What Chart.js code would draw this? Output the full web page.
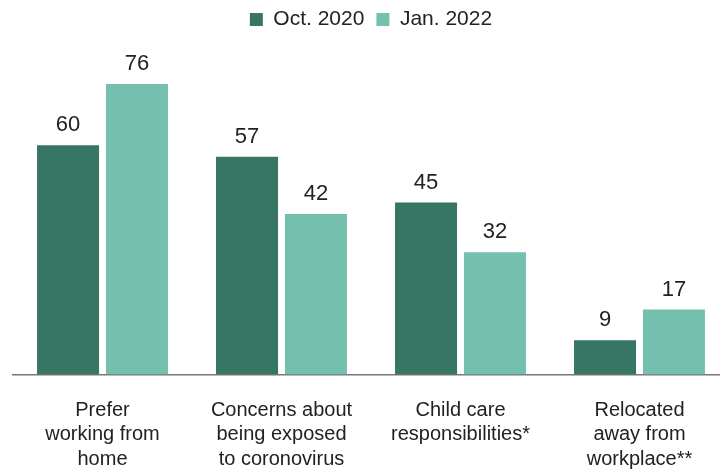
<!DOCTYPE html>
<html>
<head>
<meta charset="utf-8">
<script src="https://cdn.jsdelivr.net/npm/chart.js@4/dist/chart.umd.min.js"></script>
<style>
html,body{margin:0;padding:0;background:#fff;overflow:hidden;width:720px;height:471px;}
#wrap{width:740px;height:471px;position:relative;}
</style>
</head>
<body>
<div id="wrap"><canvas id="c"></canvas></div>
<script>
const categories = [
  ["Prefer", "working from", "home"],
  ["Concerns about", "being exposed", "to coronovirus"],
  ["Child care", "responsibilities*"],
  ["Relocated", "away from", "workplace**"]
];
const seriesNames = ["Oct. 2020", "Jan. 2022"];
const oct2020 = [60, 57, 45, 9];
const jan2022 = [76, 42, 32, 17];

const FONT = "'Liberation Sans', Arial, sans-serif";
const DARK = "#377565";
const LIGHT = "#75bfae";

const valueLabels = {
  id: "valueLabels",
  afterDatasetsDraw(chart) {
    const ctx = chart.ctx;
    ctx.save();
    ctx.font = "22px " + FONT;
    ctx.fillStyle = "#222";
    ctx.textAlign = "center";
    ctx.textBaseline = "alphabetic";
    chart.data.datasets.forEach((ds, di) => {
      const meta = chart.getDatasetMeta(di);
      meta.data.forEach((el, i) => {
        ctx.fillText(String(ds.data[i]), el.x, el.y - 14);
      });
    });
    ctx.restore();
  }
};

new Chart(document.getElementById("c"), {
  type: "bar",
  data: {
    labels: categories,
    datasets: [
      { label: seriesNames[0], data: oct2020, backgroundColor: DARK, borderWidth: 0 },
      { label: seriesNames[1], data: jan2022, backgroundColor: LIGHT, borderWidth: 0 }
    ]
  },
  options: {
    responsive: true,
    maintainAspectRatio: false,
    animation: false,
    categoryPercentage: 0.77,
    barPercentage: 0.9,
    layout: { padding: { left: 13, right: 11, top: -3, bottom: -24 } },
    plugins: {
      legend: {
        display: true,
        position: "top",
        labels: {
          font: { family: FONT, size: 21 },
          color: "#222",
          boxWidth: 13,
          boxHeight: 13,
          padding: 12
        }
      },
      tooltip: { enabled: false }
    },
    scales: {
      x: {
        grid: { display: false, drawTicks: false },
        border: { display: true, color: "#777", width: 1.5 },
        ticks: {
          font: { family: FONT, size: 20, lineHeight: 1.24 },
          color: "#222",
          padding: 23,
          maxRotation: 0,
          autoSkip: false
        }
      },
      y: {
        display: false,
        min: 0,
        max: 87.5
      }
    }
  },
  plugins: [valueLabels]
});
</script>
</body>
</html>
